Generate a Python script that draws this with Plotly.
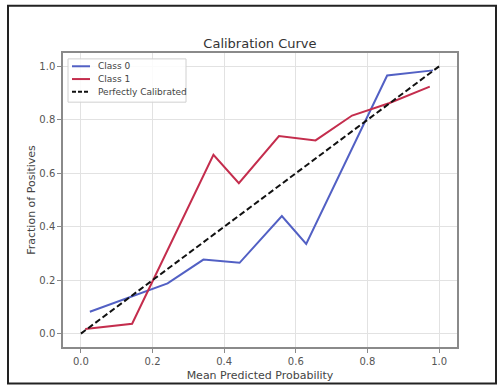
import plotly.graph_objects as go

class0_x = [0.025, 0.20, 0.242, 0.342, 0.443, 0.561, 0.629, 0.855, 0.983]
class0_y = [0.082, 0.168, 0.188, 0.277, 0.265, 0.440, 0.336, 0.966, 0.985]

class1_x = [0.012, 0.143, 0.370, 0.441, 0.553, 0.655, 0.757, 0.860, 0.974]
class1_y = [0.017, 0.037, 0.669, 0.563, 0.739, 0.723, 0.816, 0.862, 0.924]

perfect_x = [0.0, 1.0]
perfect_y = [0.0, 1.0]

tick_vals = [0.0, 0.2, 0.4, 0.6, 0.8, 1.0]
tick_text = ["0.0", "0.2", "0.4", "0.6", "0.8", "1.0"]

series_names = ["Class 0", "Class 1", "Perfectly Calibrated"]
series_colors = ["#5260c4", "#c42d4d", "#111111"]
series_dash = ["solid", "solid", "6px,3px"]

font = "DejaVu Sans"

W, H = 498, 392
ML, MR, MT, MB = 63, 41, 53, 40
PW, PH = W - ML - MR, H - MT - MB


def px(x):
    return (x - ML) / PW


def py(y):
    return (H - MB - y) / PH


fig = go.Figure()
for xs, ys, name, color, dash in zip([class0_x, class1_x, perfect_x],
                                     [class0_y, class1_y, perfect_y],
                                     series_names, series_colors, series_dash):
    fig.add_trace(go.Scatter(x=xs, y=ys, mode="lines", name=name,
                             line=dict(color=color, width=2, dash=dash)))

axis_common = dict(
    showgrid=True, gridcolor="#e2e2e2", gridwidth=1,
    zeroline=False, showline=True, linecolor="#8a8a8a", linewidth=1.5, mirror=True,
    ticks="outside", ticklen=4, tickcolor="#8a8a8a",
    tickvals=tick_vals, ticktext=tick_text,
    tickfont=dict(family=font, size=10, color="#555555"),
)

shapes = [dict(type="rect", xref="paper", yref="paper",
               x0=px(8), x1=px(496), y0=py(389), y1=py(5),
               line=dict(color="#222222", width=2), layer="below")]
# legend box
shapes.append(dict(type="rect", xref="paper", yref="paper",
                   x0=px(68), x1=px(186), y0=py(103), y1=py(59),
                   line=dict(color="#d0d0d0", width=1), fillcolor="rgba(255,255,255,0.85)",
                   layer="above"))
annotations = []
for i, (name, color, dash) in enumerate(zip(series_names, series_colors, series_dash)):
    yy = 66.5 + 13 * i
    shapes.append(dict(type="line", xref="paper", yref="paper",
                       x0=px(72), x1=px(90), y0=py(yy), y1=py(yy),
                       line=dict(color=color, width=2, dash="4px,2px" if dash != "solid" else "solid"),
                       layer="above"))
    annotations.append(dict(xref="paper", yref="paper", x=px(96), y=py(yy),
                            xanchor="left", yanchor="middle", showarrow=False,
                            text=name, font=dict(family=font, size=9, color="#444444")))

fig.update_layout(
    width=W, height=H,
    margin=dict(l=ML, r=MR, t=MT, b=MB),
    paper_bgcolor="white", plot_bgcolor="white",
    title=dict(text="Calibration Curve", x=0.522, xanchor="center", y=0.888, yanchor="middle",
               font=dict(family=font, size=13, color="#333333")),
    xaxis=dict(range=[-0.05, 1.05],
               title=dict(text="Mean Predicted Probability", standoff=6,
                          font=dict(family=font, size=11, color="#444444")),
               **axis_common),
    yaxis=dict(range=[-0.05, 1.05],
               title=dict(text="Fraction of Positives", standoff=1,
                          font=dict(family=font, size=11, color="#444444")),
               **axis_common),
    showlegend=False,
    shapes=shapes,
    annotations=annotations,
)

fig.write_html("out.html")
